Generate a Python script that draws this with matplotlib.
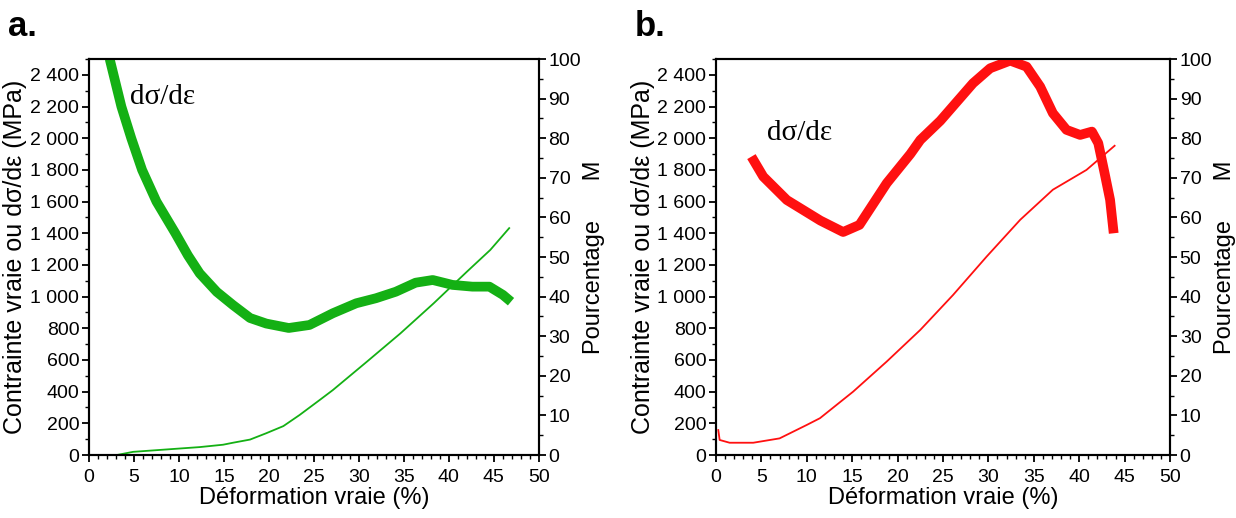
import matplotlib.pyplot as plt
from matplotlib.ticker import MultipleLocator, FuncFormatter
from matplotlib import font_manager

# --- données ---
# panneau a : dσ/dε (MPa) en fonction de la déformation vraie (%)
a_def_x = [2.3, 3.6, 4.7, 5.9, 7.5, 9.6, 11.0, 12.3, 14.2, 16.0, 17.9, 19.7, 22.2,
           24.5, 27.1, 29.7, 31.9, 34.1, 36.3, 38.2, 40.4, 42.6, 44.5, 46.0, 46.9]
a_def_y = [2500, 2200, 2000, 1800, 1600, 1400, 1260, 1147, 1030, 947, 865, 830, 802,
           821, 895, 958, 990, 1031, 1088, 1105, 1074, 1063, 1063, 1011, 968]
# panneau a : pourcentage M
a_m_x = [3.1, 4.9, 8.6, 12.3, 14.9, 16.0, 17.9, 19.7, 21.6, 23.4, 25.7, 27.1,
         30.9, 34.6, 38.3, 42.0, 44.6, 46.7]
a_m_y = [0.0, 0.8, 1.4, 2.0, 2.6, 3.1, 3.9, 5.5, 7.3, 10.1, 14.0, 16.4,
         23.6, 30.7, 38.3, 46.3, 51.8, 57.3]

# panneau b : dσ/dε (MPa)
b_def_x = [3.9, 5.2, 7.8, 11.5, 14.0, 15.8, 18.8, 21.4, 22.5, 24.7, 28.3, 30.2,
           32.4, 34.2, 35.7, 37.1, 38.6, 40.1, 41.4, 42.1, 42.8, 43.4, 43.8]
b_def_y = [1884, 1758, 1610, 1480, 1408, 1453, 1716, 1900, 1989, 2110, 2347, 2442,
           2490, 2452, 2326, 2158, 2053, 2021, 2042, 1969, 1779, 1611, 1400]
# panneau b : pourcentage M
b_m_x = [0.25, 0.4, 1.5, 4.1, 7.0, 10.0, 11.45, 15.1, 18.8, 22.5, 26.1, 29.8,
         33.5, 37.1, 40.8, 43.9]
b_m_y = [6.3, 3.8, 3.1, 3.1, 4.2, 7.6, 9.3, 16.0, 23.6, 31.6, 40.4, 50.1,
         59.4, 67.0, 72.0, 78.1]

installed = {f.name for f in font_manager.fontManager.ttflist}
narrow = 'Liberation Sans Narrow' if 'Liberation Sans Narrow' in installed else 'Liberation Sans'

plt.rcParams['font.family'] = ['Liberation Sans', 'DejaVu Sans']

def milliers(v, pos):
    return f"{v:,.0f}".replace(',', ' ')

def panneau(ax, def_x, def_y, m_x, m_y, couleur, lettre, txt_pos):
    ax2 = ax.twinx()
    ax.plot(def_x, def_y, color=couleur, linewidth=7, solid_capstyle='butt',
            solid_joinstyle='round', zorder=3)
    ax2.plot(m_x, m_y, color=couleur, linewidth=1.3)

    ax.set_xlim(0, 50)
    ax.set_ylim(0, 2500)
    ax2.set_ylim(0, 100)

    ax.xaxis.set_major_locator(MultipleLocator(5))
    ax.xaxis.set_minor_locator(MultipleLocator(1))
    ax.yaxis.set_major_locator(MultipleLocator(200))
    ax.yaxis.set_minor_locator(MultipleLocator(100))
    ax.yaxis.set_major_formatter(FuncFormatter(milliers))
    ax2.yaxis.set_major_locator(MultipleLocator(10))
    ax2.yaxis.set_minor_locator(MultipleLocator(5))

    for a in (ax, ax2):
        a.tick_params(which='major', direction='out', length=5, width=1.3,
                      labelsize=14, pad=2)
        a.tick_params(which='minor', direction='out', length=3, width=1.0)
        for s in a.spines.values():
            s.set_linewidth(1.5)
        for lab in a.get_xticklabels() + a.get_yticklabels():
            lab.set_fontfamily(narrow)
    ax.tick_params(axis='x', which='major', pad=5)
    ax.tick_params(top=False, right=False)

    ax.set_xlabel('Déformation vraie (%)', fontsize=17, labelpad=1)
    ax.set_ylabel('Contrainte vraie ou dσ/dε (MPa)', fontsize=18, labelpad=2)
    ax2.set_ylabel('Pourcentage      M', fontsize=17, labelpad=1)

    ax.text(txt_pos[0], txt_pos[1], 'dσ/dε', transform=ax.transData,
            fontsize=21, family='Liberation Serif', va='center', ha='left')
    ax.text(-0.18, 1.04, lettre, transform=ax.transAxes, fontsize=25,
            fontweight='bold', family=narrow, va='bottom', ha='left')
    return ax2

fig = plt.figure(figsize=(12.36, 5.18), dpi=100)
ax_a = fig.add_axes([0.072, 0.1216, 0.364, 0.7644])
ax_b = fig.add_axes([0.5793, 0.1216, 0.3673, 0.7644])

panneau(ax_a, a_def_x, a_def_y, a_m_x, a_m_y, '#14b014', 'a.', (4.6, 2260))
panneau(ax_b, b_def_x, b_def_y, b_m_x, b_m_y, '#ff1010', 'b.', (5.6, 2030))

fig.savefig('out.png', dpi=100)
